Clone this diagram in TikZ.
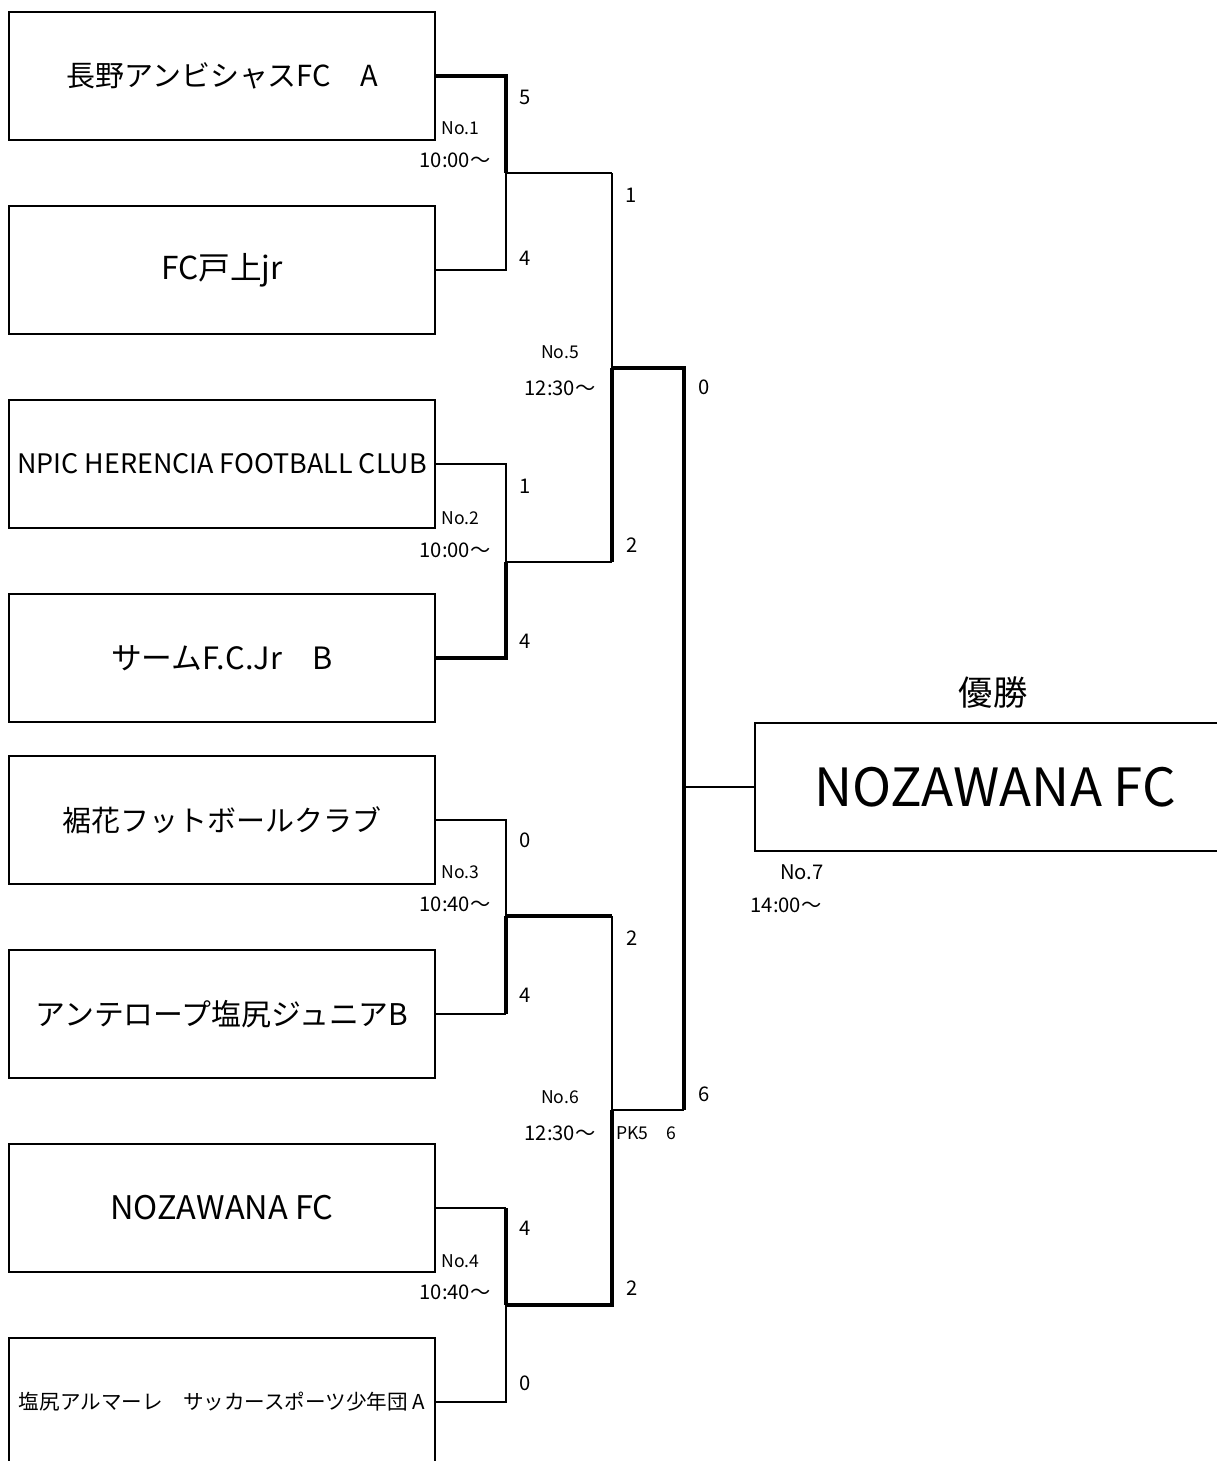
\documentclass[tikz,border=0pt]{standalone}
\usepackage{fontspec}
\setmainfont{Noto Sans CJK JP}
\usetikzlibrary{positioning}
\tikzset{
  team/.style={draw, line width=0.9pt, minimum width=8.52cm, minimum height=2.56cm,
               inner sep=0pt, font=\fontsize{16.5}{20}\selectfont},
  win/.style={line width=1.8pt},
  lose/.style={line width=0.6pt},
  half/.style={line width=1.1pt},
  score/.style={inner sep=0pt, font=\fontsize{11.5}{14}\selectfont},
  info/.style={inner sep=0pt, font=\fontsize{11.5}{14}\selectfont},
  matchno/.style={inner sep=0pt, font=\fontsize{10}{12}\selectfont},
}

\begin{document}
\begin{tikzpicture}[x=0.02cm, y=-0.02cm]
      \useasboundingbox (0,0) rectangle (1217,1461);

      \node[team] (NaganoN)    at (222,76)   {長野アンビシャスFC　A};
      \node[team, font=\fontsize{18}{21}\selectfont]
                  (TogamiN)    at (222,270)  {FC戸上jr};
      \node[team, font=\fontsize{15.3}{18}\selectfont]
                  (NpicN)      at (222,464)  {NPIC HERENCIA FOOTBALL CLUB};
      \node[team, font=\fontsize{17.5}{21}\selectfont]
                  (SamN)       at (222,658)  {サームF.C.Jr　B};
      \node[team] (SusobanaN)  at (222,820)  {裾花フットボールクラブ};
      \node[team, font=\fontsize{17}{20}\selectfont]
                  (AntelopeN)  at (222,1014) {アンテロープ塩尻ジュニアB};
      \node[team, font=\fontsize{18.5}{22}\selectfont]
                  (NozawanaN)  at (222,1208) {NOZAWANA FC};
      \node[team, font=\fontsize{11.7}{14}\selectfont]
                  (ArumareN)   at (222,1402) {塩尻アルマーレ　サッカースポーツ少年団 A};

      \node[team, minimum width=9.6cm, font=\fontsize{30}{36}\selectfont]
                  (WinnerN)    at (995,787) {NOZAWANA FC};
      \node[font=\fontsize{19.5}{23}\selectfont] (TitleN) at (993,693) {優勝};

      \coordinate (M1) at (506,173);
      \coordinate (M2) at (506,562);
      \coordinate (M3) at (506,916);
      \coordinate (M4) at (506,1305);
      \coordinate (M5) at (612,368);
      \coordinate (M6) at (612,1110);
      \coordinate (M7) at (684,787);

      % first round
      \draw [win]  (NaganoN.east) -| (M1);
      \draw [lose] (TogamiN.east) -| (M1);
      \draw [lose] (NpicN.east)   -| (M2);
      \draw [win]  (SamN.east)    -| (M2);
      \draw [lose] (SusobanaN.east) -| (M3);
      \draw [half] (AntelopeN.east) -- (AntelopeN.east -| M3);
      \draw [win]  (AntelopeN.east -| M3) -- (M3);
      \draw [half] (NozawanaN.east) -- (NozawanaN.east -| M4);
      \draw [win]  (NozawanaN.east -| M4) -- (M4);
      \draw [lose] (ArumareN.east) -| (M4);

      % semi finals
      \draw [half] (M1) -- (M1 -| M5);
      \draw [lose] (M1 -| M5) -- (M5);
      \draw [half] (M2) -- (M2 -| M5);
      \draw [win]  (M2 -| M5) -- (M5);
      \draw [win]  (M3) -- (M3 -| M6) ;
      \draw [lose] (M3 -| M6) -- (M6);
      \draw [win]  (M4) -- (M4 -| M6) -- (M6);

      % final
      \draw [win]  (M5) -- (M5 -| M7) -- (M7);
      \draw [half] (M6) -- (M6 -| M7);
      \draw [win]  (M6 -| M7) -- (M7);
      \draw [half] (M7) -- (WinnerN.west);

      % scores
      \node[score] (S1a) at (525,97)   {5};
      \node[score] (S1b) at (525,258)  {4};
      \node[score] (S2a) at (525,486)  {1};
      \node[score] (S2b) at (525,641)  {4};
      \node[score] (S3a) at (525,840)  {0};
      \node[score] (S3b) at (525,995)  {4};
      \node[score] (S4a) at (525,1228) {4};
      \node[score] (S4b) at (525,1383) {0};
      \node[score] (S5a) at (631,195)  {1};
      \node[score] (S5b) at (632,545)  {2};
      \node[score] (S6a) at (632,938)  {2};
      \node[score] (S6b) at (632,1288) {2};
      \node[score] (S7a) at (704,387)  {0};
      \node[score] (S7b) at (704,1094) {6};
      \node[matchno, anchor=west]
                   (PkN) at (616,1133) {PK5　6};

      % match numbers
      \node[matchno, anchor=west] (No1) at (441,128)  {No.1};
      \node[info]                 (T1)  at (455,160)  {10:00～};
      \node[matchno, anchor=west] (No2) at (441,518)  {No.2};
      \node[info]                 (T2)  at (455,550)  {10:00～};
      \node[matchno, anchor=west] (No3) at (441,872)  {No.3};
      \node[info]                 (T3)  at (455,904)  {10:40～};
      \node[matchno, anchor=west] (No4) at (441,1261) {No.4};
      \node[info]                 (T4)  at (455,1292) {10:40～};
      \node[matchno]              (No5) at (560,352)  {No.5};
      \node[info]                 (T5)  at (560,388)  {12:30～};
      \node[matchno]              (No6) at (560,1097) {No.6};
      \node[info]                 (T6)  at (560,1133) {12:30～};
      \node[info]                 (No7) at (802,872)  {No.7};
      \node[info]                 (T7)  at (786,905)  {14:00～};
\end{tikzpicture}
\end{document}
